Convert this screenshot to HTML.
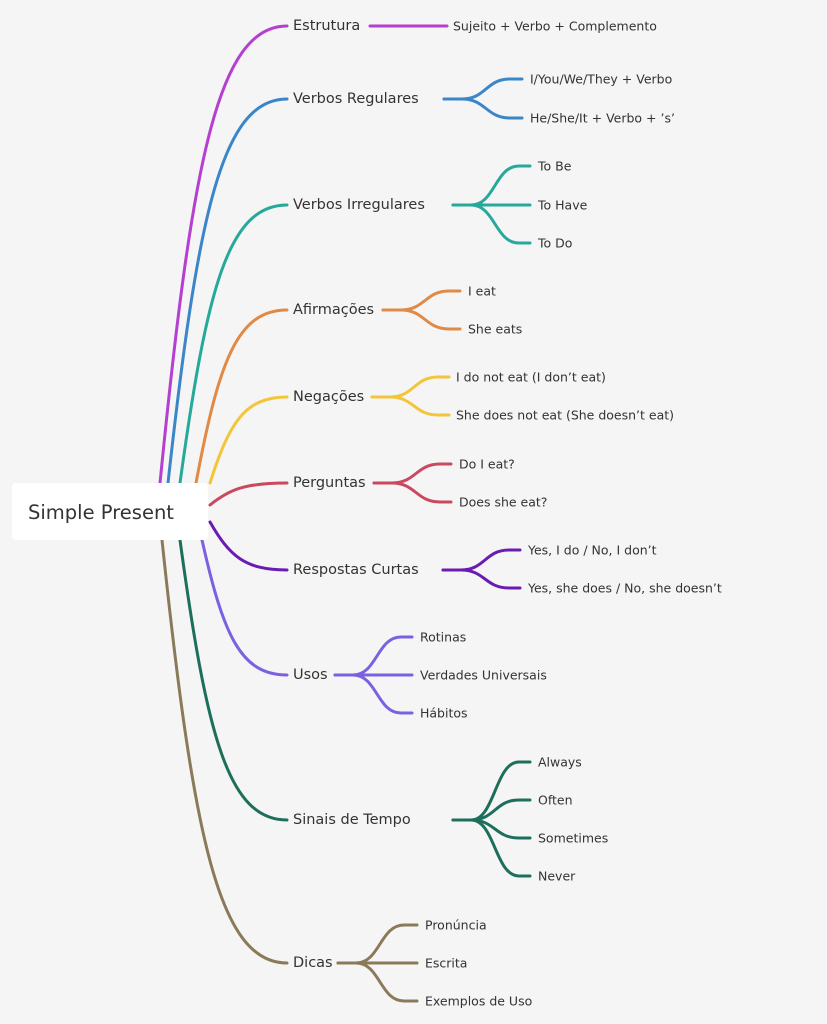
<!DOCTYPE html>
<html><head><meta charset="utf-8"><style>
html,body{margin:0;padding:0;background:#f5f5f5;}
svg{display:block}
text{font-family:"DejaVu Sans","Liberation Sans",sans-serif;fill:#333;}
.m{font-size:14.5px}
.c{font-size:12.5px}
</style></head><body>
<svg width="827" height="1024" viewBox="0 0 827 1024" xmlns="http://www.w3.org/2000/svg">
<rect width="827" height="1024" fill="#f5f5f5"/>
<g fill="none" stroke-width="3" stroke-linecap="round" id="g"></g>
<rect x="12" y="483" width="196" height="57" rx="4" fill="#fff"/>
<text x="28" y="519" style="font-size:19.5px">Simple Present</text>
<g id="t"></g>
</svg>
<script>
const B=[
["Estrutura",26,"#b43fd0",160,483,370,447,453,[["Sujeito + Verbo + Complemento",26]]],
["Verbos Regulares",99,"#3a86c8",168,483,444,522,530,[["I/You/We/They + Verbo",79],["He/She/It + Verbo + ’s’",118]]],
["Verbos Irregulares",205,"#26a99a",180,483,453,530,538,[["To Be",166],["To Have",205],["To Do",243]]],
["Afirmações",310,"#e08a45",196,483,383,460,468,[["I eat",291],["She eats",329]]],
["Negações",397,"#f2c53a",210,483,372,449,456,[["I do not eat (I don’t eat)",377],["She does not eat (She doesn’t eat)",415]]],
["Perguntas",483,"#c94a5e",210,505,374,451,459,[["Do I eat?",464],["Does she eat?",502]]],
["Respostas Curtas",570,"#6a1bb3",210,522,443,520,528,[["Yes, I do / No, I don’t",550],["Yes, she does / No, she doesn’t",588]]],
["Usos",675,"#7b61e0",202,540,335,412,420,[["Rotinas",637],["Verdades Universais",675],["Hábitos",713]]],
["Sinais de Tempo",820,"#1e6e5c",180,540,453,530,538,[["Always",762],["Often",800],["Sometimes",838],["Never",876]]],
["Dicas",963,"#8a7a5a",162,540,338,417,425,[["Pronúncia",925],["Escrita",963],["Exemplos de Uso",1001]]]
];
const NS="http://www.w3.org/2000/svg";
const g=document.getElementById('g'),t=document.getElementById('t');
function p(d,c){const e=document.createElementNS(NS,'path');e.setAttribute('d',d);e.setAttribute('stroke',c);g.appendChild(e);}
function tx(s,x,y,cl){const e=document.createElementNS(NS,'text');e.setAttribute('x',x);e.setAttribute('y',y);e.setAttribute('class',cl);e.setAttribute('dominant-baseline','central');e.textContent=s;t.appendChild(e);}
for(const [l,y,c,sx,sy,x0,x1,cx,ch] of B){
 const ex=287,dx=ex-sx;
 p(`M${sx},${sy} C${sx+dx*0.25},${y+(sy-y)*0.3} ${sx+dx*0.45},${y} ${ex},${y}`,c);
 tx(l,293,y,'m');
 for(const [s,cy] of ch){
  if(ch.length==1){p(`M${x0},${y} L${x1},${cy}`,c);}
  else p(`M${x0},${y} L${x0+18},${y} C${x0+42},${y} ${x0+42},${cy} ${x0+66},${cy} L${x1},${cy}`,c);
  tx(s,cx,cy,'c');
 }
}
</script>
</body></html>
